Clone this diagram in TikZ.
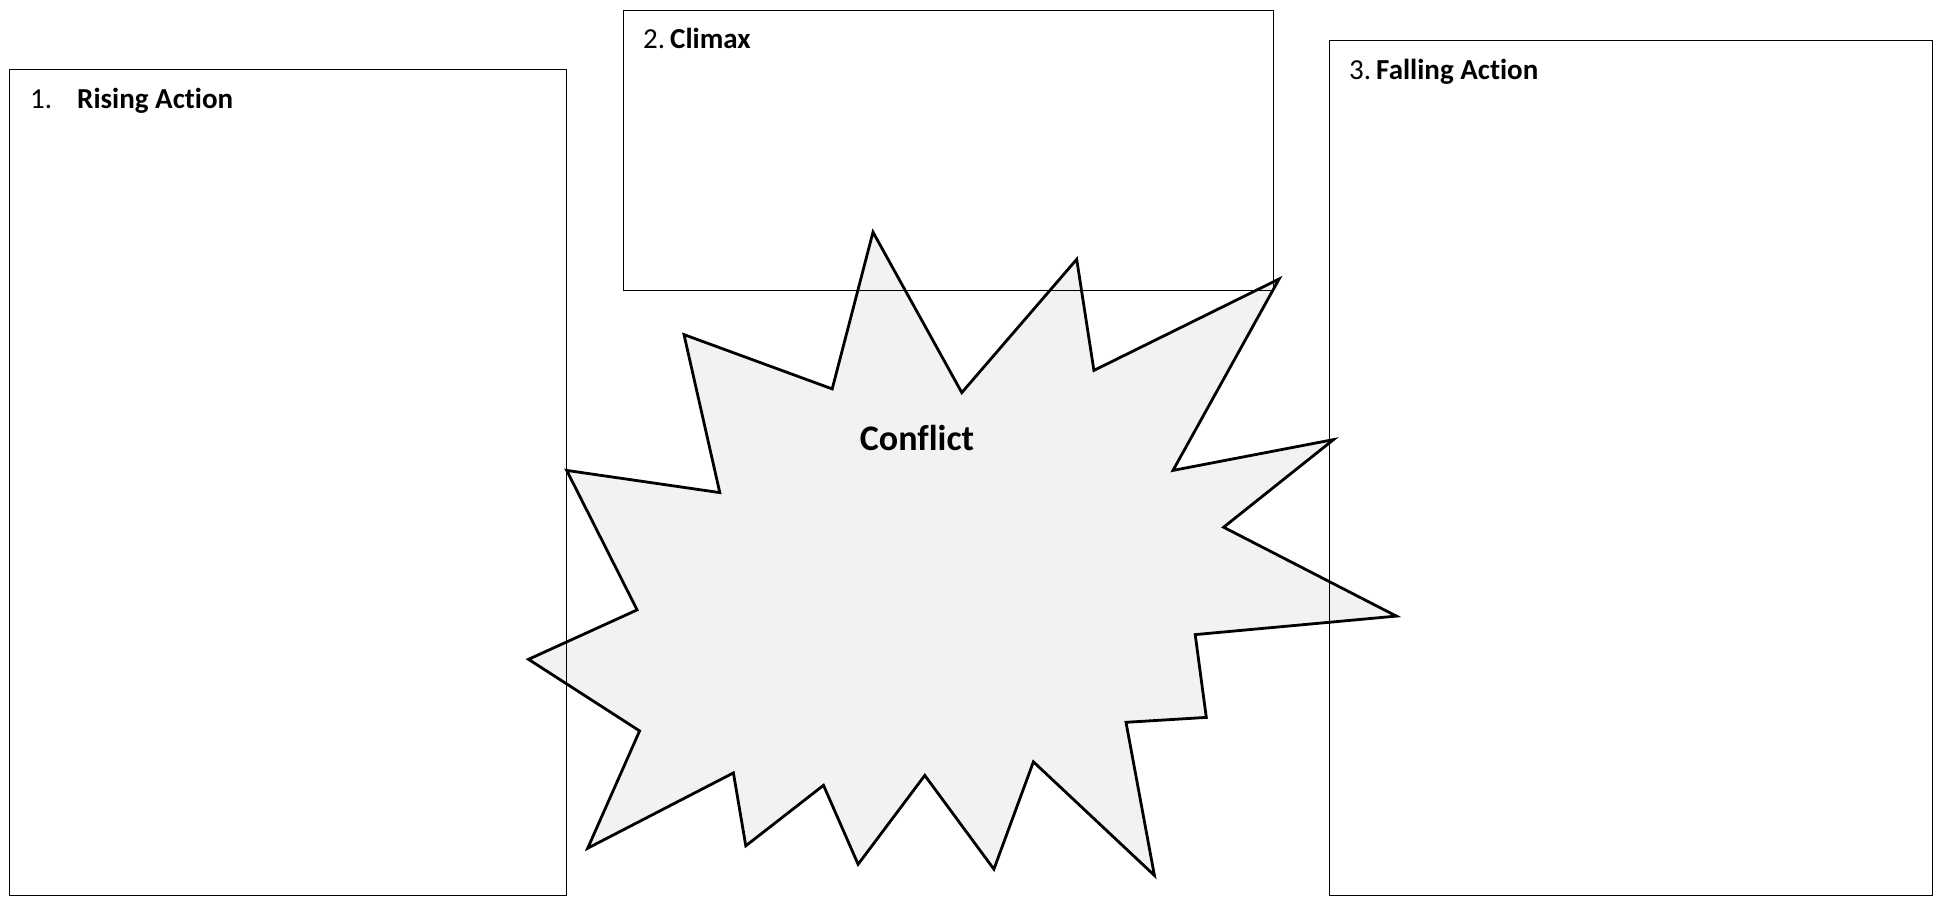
\documentclass[tikz,border=0pt]{standalone}
\usepackage{fontspec}
\setmainfont{Carlito}[RawFeature={-liga;-clig;-calt;-dlig;-rlig}]
\begin{document}
\begin{tikzpicture}[x=1pt,y=-1pt,
  panel/.style={draw=black,line width=1.2pt,fill=none},
  burst/.style={draw=black,line width=2.8pt,line join=miter,fill=starfill},
  lbl/.style={anchor=base west,inner sep=0pt,font=\fontsize{29}{34}\selectfont}]
\definecolor{starfill}{HTML}{F2F2F2}
\useasboundingbox (0,0) rectangle (1936,898);
% star
\draw[burst] (873.0,232.1) -- (961.8,392.6) -- (1076.7,259.3) -- (1093.9,370.4)
  -- (1279.1,279.0) -- (1173.0,470.4) -- (1333.5,439.6) -- (1223.6,527.2)
  -- (1396.4,616.1) -- (1195.2,634.6) -- (1206.3,717.4) -- (1126.0,722.3)
  -- (1154.4,875.4) -- (1033.4,761.8) -- (993.9,869.2) -- (924.8,775.4)
  -- (858.1,864.3) -- (823.5,785.3) -- (745.8,845.8) -- (733.4,772.9)
  -- (587.7,848.2) -- (639.6,730.9) -- (528.5,659.3) -- (637.1,609.9)
  -- (566.7,470.4) -- (719.8,492.6) -- (684.0,334.6) -- (832.2,388.9) -- cycle;
\node[anchor=base,inner sep=0pt,font=\bfseries\fontsize{36}{42}\selectfont] (conflict) at (917,450) {Conflict};
% panels
\node[panel,inner sep=0pt,minimum width=557pt,minimum height=826pt,anchor=north west] (rising) at (9,69) {};
\node[panel,inner sep=0pt,minimum width=650pt,minimum height=280pt,anchor=north west] (climax) at (623,10) {};
\node[panel,inner sep=0pt,minimum width=603pt,minimum height=855pt,anchor=north west] (falling) at (1329,40) {};
\node[lbl] (l1n) at (30,108) {1.};
\node[lbl] (l1) at (77,108) {\bfseries Rising Action};
\node[lbl] (l2) at (643,48) {2.\hspace{5pt}\textbf{Climax}};
\node[lbl] (l3) at (1349,79) {3.\hspace{5pt}\textbf{Falling Action}};
\end{tikzpicture}
\end{document}
